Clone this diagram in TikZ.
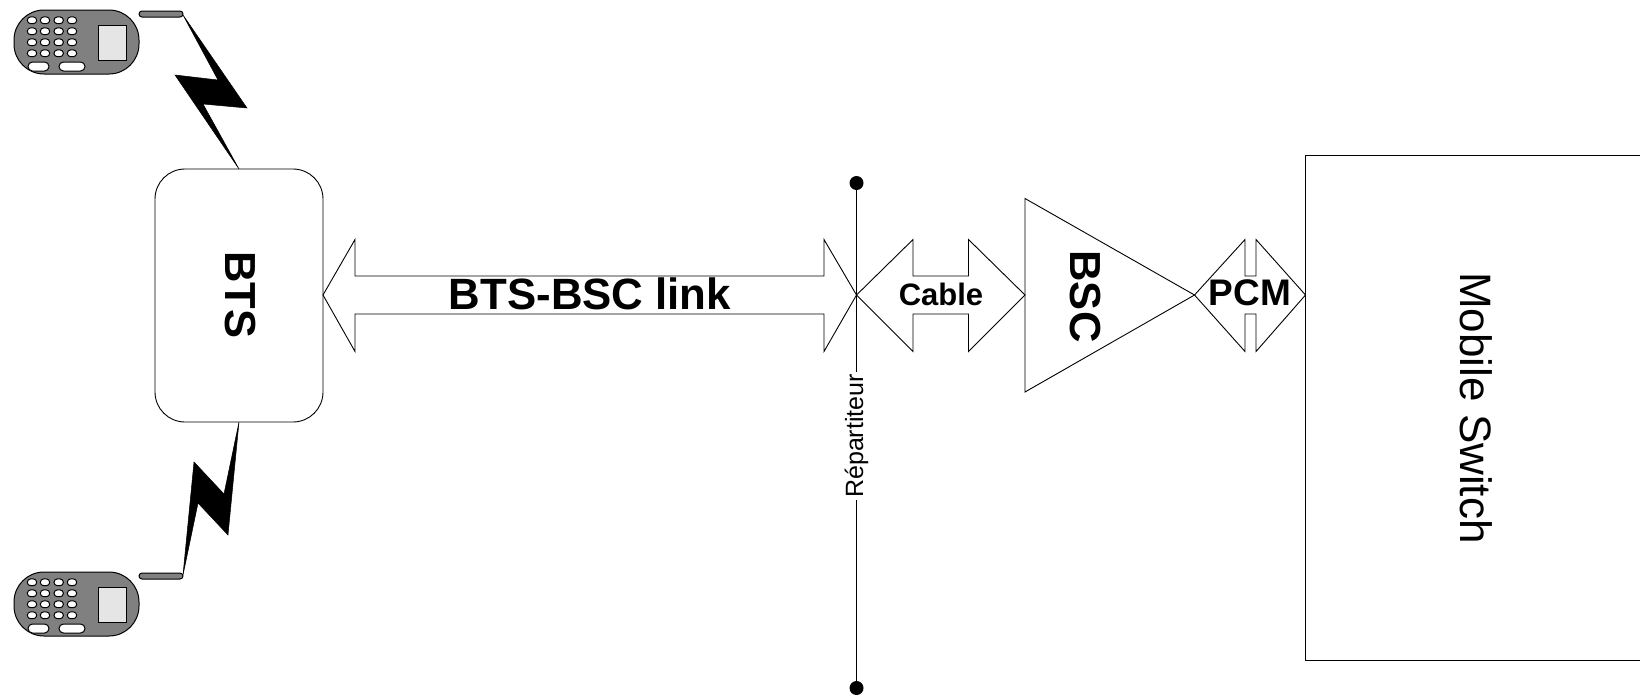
\documentclass[tikz,border=0pt]{standalone}
\usepackage{fontspec}
\setmainfont{Liberation Sans}
\tikzset{
  outline/.style={draw=black,line width=0.9pt,fill=white},
  bolt/.style={draw=black,line width=0.5pt,fill=black,line join=miter},
  key/.style={draw=black,line width=1pt,fill=white,rounded corners=3.4pt},
  bigkey/.style={draw=black,line width=1pt,fill=white,rounded corners=4.5pt},
  label/.style={inner sep=0pt,font=\bfseries},
  phone/.pic={
    \draw[draw=black,line width=1pt,fill=black!50,rounded corners=30pt] (14,10) rectangle (139,74);
    \draw[draw=black,line width=1pt,fill=black!10] (98.7,25) rectangle (126.7,60);
    \foreach \ky in {20.3,31.3,42.3,53.3}
      \foreach \kx in {32,45,58.7,72}
        \draw[key] (\kx-4.7,\ky-3.4) rectangle (\kx+4.7,\ky+3.4);
    \draw[bigkey] (28,62) rectangle (49,71);
    \draw[bigkey] (59,62) rectangle (85,71);
  }
}
\begin{document}
\begin{tikzpicture}[x=1pt,y=-1pt]
\useasboundingbox (0,0) rectangle (1640,697);
% named anchors
\coordinate (btsE) at (323,295);
\coordinate (rep) at (856.5,295);
\coordinate (bscW) at (1025,295);
\coordinate (bscE) at (1194.5,295);
\coordinate (mscW) at (1305.5,295);
\coordinate (btsN) at (239,169);
\coordinate (btsS) at (239,422);
\coordinate (antU) at (183,15);
\coordinate (antL) at (183,575);
% phones
\pic (phoneU) at (0,0) {phone};
\pic (phoneL) at (0,562) {phone};
\draw[draw=black,line width=1pt,fill=black!50,rounded corners=3pt] (139,11) rectangle (183,17);
\draw[draw=black,line width=1pt,fill=black!50,rounded corners=3pt] (139,573) rectangle (183,579);
% BTS
\node[outline,rounded corners=30pt,minimum width=168pt,minimum height=253pt,inner sep=0pt] (bts) at (239,295.5) {};
\node[label,font=\bfseries\fontsize{43.5}{44}\selectfont,rotate=-90] (btslab) at (240.5,295) {BTS};
% lightning
\draw[bolt] (antU) -- (247,108) -- (203,104) -- (btsN) -- (175,75) -- (218,80) -- cycle;
\draw[bolt] (btsS) -- (224,494) -- (194,462) -- (antL) -- (198,503) -- (228,535) -- cycle;
% repartiteur
\draw[line width=0.9pt] (856.5,183) -- (856.5,688);
\fill (856.5,183) circle (7pt);
\fill (856.5,688) circle (7pt);
% block arrows
\draw[outline,fill=none] (btsE) -- (355,239.5) -- (355,276) -- (824,276) -- (824,239.5) -- (rep) -- (824,351.5) -- (824,314) -- (355,314) -- (355,351.5) -- cycle;
\draw[outline,fill=none] (rep) -- (913,239.5) -- (913,276) -- (968.5,276) -- (968.5,239.5) -- (bscW) -- (968.5,351.5) -- (968.5,314) -- (913,314) -- (913,351.5) -- cycle;
\draw[outline,fill=none] (bscE) -- (1245,239.5) -- (1245,276) -- (1256,276) -- (1256,239.5) -- (mscW) -- (1256,351.5) -- (1256,314) -- (1245,314) -- (1245,351.5) -- cycle;
% BSC
\draw[outline,fill=none] (bscW |- 0,198.5) -- (bscE) -- (bscW |- 0,392) -- cycle;
% mobile switch
\draw[line width=0.9pt] (1660,155) -- (1305.5,155) -- (1305.5,660) -- (1660,660);
% labels
\node[label,font=\bfseries\fontsize{43.8}{44}\selectfont] (linklab) at (590,294) {BTS-BSC link};
\node[label,font=\bfseries\fontsize{31}{32}\selectfont] (cablelab) at (941,294.5) {Cable};
\node[label,font=\bfseries\fontsize{37}{37}\selectfont] (pcmlab) at (1250,293) {PCM};
\node[label,font=\bfseries\fontsize{43.5}{44}\selectfont,rotate=-90] (bsclab) at (1085,296.5) {BSC};
\node[inner sep=0pt,font=\fontsize{44}{44}\selectfont,rotate=-90] (msclab) at (1476,408) {Mobile Switch};
\node[fill=white,inner xsep=2pt,inner ysep=0pt,font=\fontsize{25}{25}\selectfont,rotate=90] (replab) at (856.5,436) {Répartiteur};
\end{tikzpicture}
\end{document}
